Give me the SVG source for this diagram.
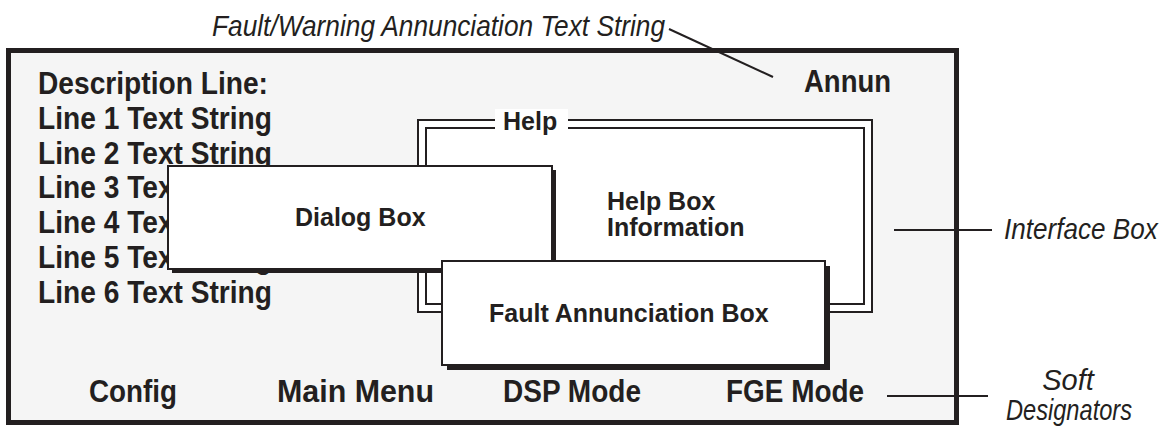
<svg xmlns="http://www.w3.org/2000/svg" width="1166" height="426" viewBox="0 0 1166 426">
  <style>
    .cond { font-family: "Liberation Sans Narrow", "Liberation Sans", Arial, sans-serif; font-weight: bold; font-size: 31px; fill: #231f20; }
    .ital { font-family: "Liberation Sans Narrow", "Liberation Sans", Arial, sans-serif; font-style: italic; font-size: 29px; fill: #231f20; }
    .box { font-family: "Liberation Sans", Arial, sans-serif; font-weight: bold; font-size: 25px; fill: #231f20; }
    .thin { fill: none; stroke: #231f20; stroke-width: 2; }
    .panel { fill: #ffffff; stroke: #231f20; stroke-width: 2; }
    .shadow { fill: #231f20; }
    .lead { stroke: #231f20; stroke-width: 2; fill: none; }
  </style>
  <rect width="1166" height="426" fill="#ffffff"/>

  <g id="interface-box">
    <rect x="8.5" y="50.5" width="948" height="372" fill="#f5f5f5" stroke="#231f20" stroke-width="5"/>
  </g>

  <g id="description-lines">
    <text class="cond" x="38" y="94" textLength="230" lengthAdjust="spacingAndGlyphs">Description Line:</text>
    <text class="cond" x="38" y="128.8" textLength="234" lengthAdjust="spacingAndGlyphs">Line 1 Text String</text>
    <text class="cond" x="38" y="163.6" textLength="234" lengthAdjust="spacingAndGlyphs">Line 2 Text String</text>
    <text class="cond" x="38" y="198.4" textLength="234" lengthAdjust="spacingAndGlyphs">Line 3 Text String</text>
    <text class="cond" x="38" y="233.2" textLength="234" lengthAdjust="spacingAndGlyphs">Line 4 Text String</text>
    <text class="cond" x="38" y="268" textLength="234" lengthAdjust="spacingAndGlyphs">Line 5 Text String</text>
    <text class="cond" x="38" y="302.8" textLength="234" lengthAdjust="spacingAndGlyphs">Line 6 Text String</text>
  </g>

  <g id="annun">
    <text class="cond" x="804" y="92" textLength="87" lengthAdjust="spacingAndGlyphs">Annun</text>
  </g>

  <g id="help-box">
    <rect x="418" y="120" width="454" height="192" fill="#ffffff" stroke="#231f20" stroke-width="2"/>
    <rect class="thin" x="426" y="128" width="438" height="176"/>
    <rect x="495" y="109" width="73" height="26" fill="#ffffff"/>
    <text class="box" x="503" y="130">Help</text>
    <text class="box" x="607" y="210">Help Box</text>
    <text class="box" x="607" y="236">Information</text>
  </g>

  <g id="dialog-box">
    <rect class="shadow" x="172" y="170" width="384" height="103"/>
    <rect class="panel" x="168" y="166" width="384" height="103"/>
    <text class="box" x="295" y="226">Dialog Box</text>
  </g>

  <g id="fault-box">
    <rect class="shadow" x="447" y="266" width="383" height="104"/>
    <rect class="panel" x="442" y="261" width="383" height="104"/>
    <text class="box" x="489" y="322">Fault Annunciation Box</text>
  </g>

  <g id="soft-designators">
    <text class="cond" x="89" y="402" textLength="88" lengthAdjust="spacingAndGlyphs">Config</text>
    <text class="cond" x="277" y="402" textLength="157" lengthAdjust="spacingAndGlyphs">Main Menu</text>
    <text class="cond" x="503" y="402" textLength="138" lengthAdjust="spacingAndGlyphs">DSP Mode</text>
    <text class="cond" x="726" y="402" textLength="138" lengthAdjust="spacingAndGlyphs">FGE Mode</text>
  </g>

  <g id="callout-labels">
    <text class="ital" x="212" y="36" textLength="453" lengthAdjust="spacingAndGlyphs">Fault/Warning Annunciation Text String</text>
    <text class="ital" font-size="28" transform="translate(1004,239) scale(0.9,1)">Interface Box</text>
    <text class="ital" x="1068" y="390" text-anchor="middle">Soft</text>
    <text class="ital" x="1069" y="420" text-anchor="middle" textLength="126" lengthAdjust="spacingAndGlyphs">Designators</text>
  </g>

  <g id="connectors">
    <line class="lead" x1="669" y1="29" x2="773" y2="77"/>
    <line class="lead" x1="894" y1="230" x2="992" y2="230"/>
    <line class="lead" x1="887" y1="396" x2="988" y2="396"/>
  </g>
</svg>
